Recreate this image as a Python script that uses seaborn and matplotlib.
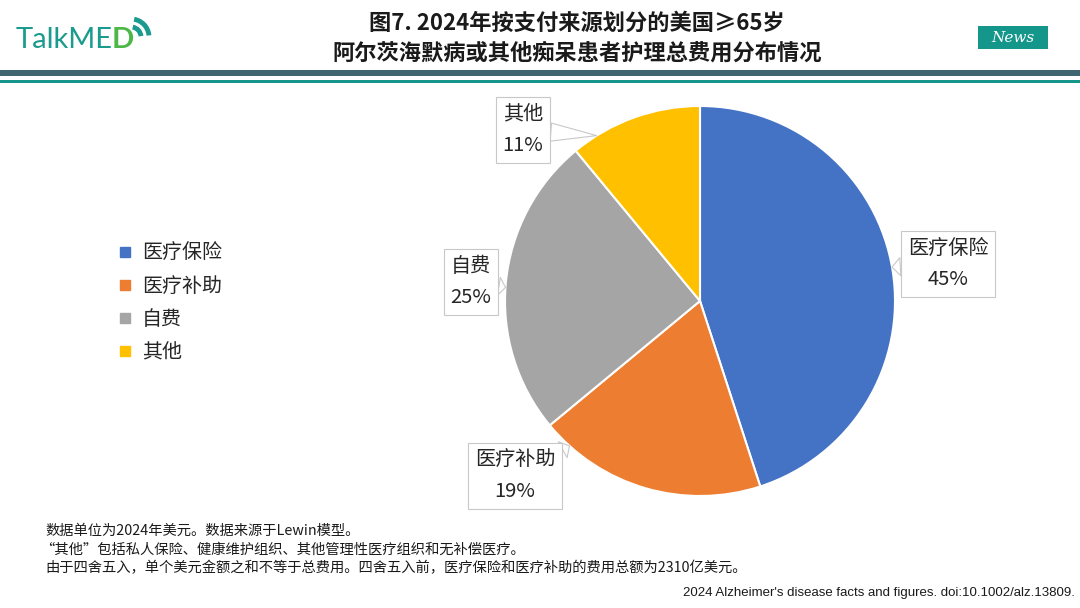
import numpy as np
import matplotlib
matplotlib.use("Agg")
import matplotlib.pyplot as plt
import seaborn as sns
from matplotlib.patches import Rectangle, Arc
from matplotlib.lines import Line2D

# data
categories = ["医疗保险", "医疗补助", "自费", "其他"]
shares = [45, 19, 25, 11]
colors = ["#4472C4", "#ED7D31", "#A5A5A5", "#FFC000"]

title_lines = ["图7. 2024年按支付来源划分的美国≥65岁", "阿尔茨海默病或其他痴呆患者护理总费用分布情况"]
notes = [
    "数据单位为2024年美元。数据来源于Lewin模型。",
    "“其他”包括私人保险、健康维护组织、其他管理性医疗组织和无补偿医疗。",
    "由于四舍五入，单个美元金额之和不等于总费用。四舍五入前，医疗保险和医疗补助的费用总额为2310亿美元。",
]
source = "2024 Alzheimer's disease facts and figures. doi:10.1002/alz.13809."

sns.set_theme(style="white")
plt.rcParams["font.family"] = ["Noto Sans CJK SC", "DejaVu Sans"]

W, H = 1080, 608
fig = plt.figure(figsize=(W / 100, H / 100), dpi=100)
fig.patch.set_facecolor("white")

# pie axes: centre (700, 301) px, radius 195 px
R = 195
cx, cy = 700, 301
left, right, top, bottom = 380, 1020, 95, 507
ax = fig.add_axes([left / W, (H - bottom) / H, (right - left) / W, (bottom - top) / H])
wedges, _ = ax.pie(shares, colors=colors, startangle=90, counterclock=False,
                   wedgeprops=dict(edgecolor="white", linewidth=1.5))
ax.set_xlim((left - cx) / R, (right - cx) / R)
ax.set_ylim((cy - bottom) / R, (cy - top) / R)
ax.set_aspect("equal")
ax.axis("off")

# callout label positions (px) and pointer angles (deg)
label_px = [(948, 264), (515, 476), (471, 282), (523, 130)]
pointer_deg = [10, -132, 176, 122]
for cat, val, (px, py), ang in zip(categories, shares, label_px, pointer_deg):
    tx, ty = np.cos(np.radians(ang)), np.sin(np.radians(ang))
    ax.annotate(f"{cat}\n{val}%", xy=(tx, ty), xytext=((px - cx) / R, (cy - py) / R),
                ha="center", va="center", fontsize=14.5, color="#262626", linespacing=1.65,
                annotation_clip=False,
                bbox=dict(boxstyle="square,pad=0.35", fc="white", ec="#C8C8C8", lw=0.8),
                arrowprops=dict(arrowstyle="wedge,tail_width=0.9", fc="white", ec="#C8C8C8",
                                lw=0.8, shrinkA=0, shrinkB=0))

# legend
handles = [Line2D([], [], marker="s", linestyle="none", markersize=6.5,
                  markerfacecolor=c, markeredgecolor=c) for c in colors]
fig.legend(handles, categories, loc="upper left", bbox_to_anchor=(107 / W, 1 - 233 / H),
           frameon=False, fontsize=14.4, labelspacing=0.6, handlelength=0.8,
           handletextpad=0.45, borderpad=0, labelcolor="#262626")

# overlay in pixel coordinates for header decoration
ov = fig.add_axes([0, 0, 1, 1], zorder=-1)
ov.set_xlim(0, W)
ov.set_ylim(H, 0)
ov.axis("off")
ov.add_patch(Rectangle((0, 70), W, 6, color="#3F6571", lw=0))
ov.add_patch(Rectangle((0, 80), W, 3, color="#16968A", lw=0))

# logo
ov.text(16, 40, "TalkME", fontsize=21, color="#1A9B8E", family="Lato",
        ha="left", va="center")
ov.text(112, 40, "D", fontsize=21, color="#4DB848", family="Lato", fontweight="bold",
        ha="left", va="center")
for r in (10, 18):
    ov.add_patch(Arc((131, 37), 2 * r, 2 * r, theta1=280, theta2=355, color="#1A9B8E", lw=3.5))

# news badge
ov.add_patch(Rectangle((978, 26), 70, 23, color="#14968A", lw=0))
ov.text(1013, 37.5, "News", fontsize=11, color="white", style="italic", family="DejaVu Serif",
        ha="center", va="center")

# title
ov.text(577, 23, title_lines[0], fontsize=16, fontweight="bold", color="#1A1A1A",
        ha="center", va="center")
ov.text(577, 53, title_lines[1], fontsize=16, fontweight="bold", color="#1A1A1A",
        ha="center", va="center")

# notes
for i, line in enumerate(notes):
    ov.text(45 if i != 1 else 40, 531 + 18.5 * i, line, fontsize=10.3, color="#1A1A1A",
            ha="left", va="center")
ov.text(1075, 593, source, fontsize=9.5, color="#1A1A1A", ha="right", va="center",
        family="Liberation Sans")

fig.savefig("out.png", dpi=100)
